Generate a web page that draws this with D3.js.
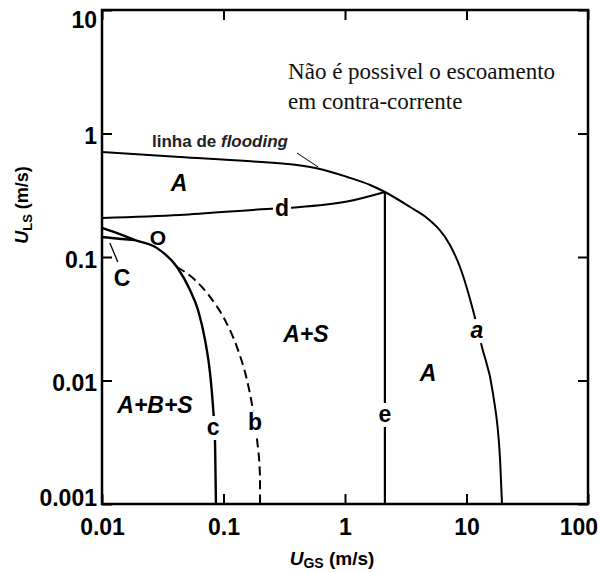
<!DOCTYPE html>
<html>
<head>
<meta charset="utf-8">
<script src="https://cdn.jsdelivr.net/npm/d3@7"></script>
<style>
  body { margin: 0; background: #fff; }
  svg { display: block; }
</style>
</head>
<body>
<svg id="chart" width="599" height="572"></svg>
<script>
// Axis ticks (log-log flow-pattern map, velocities in m/s)
const xTickValues = [0.01, 0.1, 1, 10, 100];
const xTickLabels = ["0.01", "0.1", "1", "10", "100"];
const yTickValues = [0.001, 0.01, 0.1, 1, 10];
const yTickLabels = ["0.001", "0.01", "0.1", "1", "10"];

// Flooding line, continuing as boundary a  [U_GS, U_LS]
const curveFloodA = [[0.01, 0.708], [0.0438, 0.645], [0.156, 0.598], [0.403, 0.556], [0.622, 0.516],
  [1.04, 0.445], [1.61, 0.383], [2.13, 0.336], [3.43, 0.254], [4.73, 0.207], [7.31, 0.125],
  [8.84, 0.083], [11.3, 0.0373], [13.4, 0.0187], [16.5, 0.0079], [18.9, 0.00227], [19.6, 0.001]];
// Boundary d
const curveD = [[0.01, 0.207], [0.0438, 0.219], [0.228, 0.245], [0.387, 0.252], [1.04, 0.281],
  [2.13, 0.336]];
// Boundary e (vertical)
const curveE = [[2.13, 0.336], [2.13, 0.001]];
// Boundary O / c (solid)
const curveC = [[0.01, 0.172], [0.014, 0.153], [0.0187, 0.137], [0.0284, 0.118], [0.0414, 0.083],
  [0.053, 0.054], [0.0617, 0.0372], [0.0705, 0.0213], [0.0775, 0.0115], [0.082, 0.0061],
  [0.0852, 0.00312], [0.0867, 0.001]];
// Boundary C (short branch merging into O)
const curveSmallC = [[0.01, 0.145], [0.0145, 0.140], [0.0187, 0.137]];
// Boundary b (dashed)
const curveB = [[0.0414, 0.083], [0.0583, 0.0652], [0.0775, 0.0475], [0.1028, 0.0309],
  [0.1315, 0.0177], [0.156, 0.0101], [0.172, 0.0063], [0.189, 0.0033], [0.1996, 0.0017], [0.2, 0.001]];
// Leader lines
const leaderC = [[0.0116, 0.130], [0.0135, 0.091]];
const leaderFlood = [[0.403, 0.695], [0.600, 0.536]];

// Curve letters and region names  [text, U_GS, U_LS]
const curveLabels = [["d", 0.303, 0.249], ["c", 0.082, 0.0042], ["b", 0.1815, 0.0046],
  ["e", 2.13, 0.00536], ["C", 0.0146, 0.0676]];
const curveLabelA = ["a", 12.2, 0.0256];
const circleLabel = ["O", 0.0289, 0.143];
const regionLabels = [["A", 0.043, 0.397], ["A+B+S", 0.0273, 0.0063], ["A+S", 0.477, 0.0238],
  ["A", 4.82, 0.0115]];
const floodingText = ["linha de ", "flooding", 0.0258, 0.778];
const noteLines = ["Não é possivel o escoamento", "em contra-corrente"];
const notePos = [0.34, 2.76, 1.58];

const svg = d3.select("#chart");
const L = 102, R = 588, T = 10, B = 504;
const x = d3.scaleLog().domain([0.01, 100]).range([L, R]);
const y = d3.scaleLog().domain([0.001, 10]).range([B, T]);
const sans = "'Liberation Sans', Arial, Helvetica, sans-serif";

const line = d3.line().x(d => x(d[0])).y(d => y(d[1])).curve(d3.curveMonotoneX);
const straight = d3.line().x(d => x(d[0])).y(d => y(d[1]));

// Axes with inward ticks on all four sides
function styleAxis(g) {
  g.select(".domain").remove();
  g.selectAll(".tick line").attr("stroke", "#000").attr("stroke-width", 2);
}
const gx = svg.append("g").attr("transform", `translate(0,${B})`)
  .call(d3.axisBottom(x).tickValues(xTickValues).tickSize(-10).tickPadding(15)
    .tickFormat((d, i) => xTickLabels[i]));
styleAxis(gx);
gx.selectAll("text").attr("font-family", sans).attr("font-size", 23).attr("font-weight", "bold")
  .attr("fill", "#000");
gx.selectAll(".tick text").each(function () {
  const w = this.getComputedTextLength();
  const tr = d3.select(this.parentNode).attr("transform");
  const cx = +tr.match(/translate\(([-\d.]+)/)[1];
  const maxRight = 598;
  if (cx + w / 2 > maxRight) d3.select(this).attr("x", maxRight - w / 2 - cx);
});

const gy = svg.append("g").attr("transform", `translate(${L},0)`)
  .call(d3.axisLeft(y).tickValues(yTickValues).tickSize(-10).tickPadding(5)
    .tickFormat((d, i) => yTickLabels[i]));
styleAxis(gy);
gy.selectAll("text").attr("font-family", sans).attr("font-size", 23).attr("font-weight", "bold")
  .attr("fill", "#000");
gy.selectAll(".tick text").each(function (d) {
  const ty = y(d);
  const target = Math.min(Math.max(ty + 3, 20), 498);
  d3.select(this).attr("y", target - ty);
});

const gt = svg.append("g").attr("transform", `translate(0,${T})`)
  .call(d3.axisTop(x).tickValues(xTickValues).tickSize(-10).tickFormat(""));
styleAxis(gt);
const gr = svg.append("g").attr("transform", `translate(${R},0)`)
  .call(d3.axisRight(y).tickValues(yTickValues).tickSize(-10).tickFormat(""));
styleAxis(gr);

// Frame
svg.append("rect").attr("x", L).attr("y", T).attr("width", R - L).attr("height", B - T)
  .attr("fill", "none").attr("stroke", "#000").attr("stroke-width", 2.5);

// Boundaries
const curves = svg.append("g").attr("fill", "none").attr("stroke", "#000")
  .attr("stroke-linecap", "butt");
curves.append("path").attr("d", line(curveFloodA)).attr("stroke-width", 2);
curves.append("path").attr("d", line(curveD)).attr("stroke-width", 2);
curves.append("path").attr("d", straight(curveE)).attr("stroke-width", 2.2);
curves.append("path").attr("d", line(curveC)).attr("stroke-width", 2.4);
curves.append("path").attr("d", line(curveSmallC)).attr("stroke-width", 2.4);
curves.append("path").attr("d", line(curveB)).attr("stroke-width", 2)
  .attr("stroke-dasharray", "9,5");
curves.append("path").attr("d", straight(leaderC)).attr("stroke-width", 1.3);
curves.append("path").attr("d", straight(leaderFlood)).attr("stroke-width", 1);

// Curve letters with a white knockout behind them
const labels = svg.append("g");
function letter(t, gx_, gy_, style) {
  const g = labels.append("g");
  const rect = g.append("rect").attr("fill", "#fff");
  const txt = g.append("text").attr("x", x(gx_)).attr("y", y(gy_))
    .attr("text-anchor", "middle").attr("dominant-baseline", "central")
    .attr("font-family", sans).attr("font-size", 23).attr("font-weight", "bold")
    .attr("font-style", style || "normal").attr("fill", "#000").text(t);
  const bb = txt.node().getBBox();
  rect.attr("x", bb.x - 2).attr("y", bb.y + 2).attr("width", bb.width + 4).attr("height", bb.height - 2);
  return txt;
}
curveLabels.forEach(([t, a, b]) => letter(t, a, b));
letter(curveLabelA[0], curveLabelA[1], curveLabelA[2], "italic");
labels.append("text").attr("x", x(circleLabel[1])).attr("y", y(circleLabel[2]))
  .attr("text-anchor", "middle").attr("dominant-baseline", "central")
  .attr("font-family", sans).attr("font-size", 21).attr("font-weight", "bold").text(circleLabel[0]);

regionLabels.forEach(([t, a, b]) => {
  labels.append("text").attr("x", x(a)).attr("y", y(b))
    .attr("text-anchor", "middle").attr("dominant-baseline", "central")
    .attr("font-family", sans).attr("font-size", 23).attr("font-weight", "bold")
    .attr("font-style", "italic").attr("fill", "#000").text(t);
});

const ft = labels.append("text").attr("x", x(floodingText[2])).attr("y", y(floodingText[3]))
  .attr("font-family", sans).attr("font-size", 17).attr("font-weight", "bold").attr("fill", "#222");
ft.append("tspan").text(floodingText[0]);
ft.append("tspan").attr("font-style", "italic").text(floodingText[1]);

// Note in the upper region
noteLines.forEach((s, i) => {
  labels.append("text").attr("x", x(notePos[0])).attr("y", y(notePos[1 + i]))
    .attr("font-family", "'Liberation Serif', 'Times New Roman', serif").attr("font-size", 23)
    .attr("fill", "#111").text(s);
});

// Axis titles
const xt = svg.append("text").attr("x", 332).attr("y", 558).attr("text-anchor", "middle")
  .attr("dominant-baseline", "central").attr("font-family", sans).attr("font-size", 19)
  .attr("font-weight", "bold");
xt.append("tspan").attr("font-style", "italic").text("U");
xt.append("tspan").attr("font-size", 14).attr("dy", 5).text("GS");
xt.append("tspan").attr("dy", -5).text(" (m/s)");

const yt = svg.append("text").attr("transform", "translate(22,205) rotate(-90)")
  .attr("text-anchor", "middle").attr("dominant-baseline", "central")
  .attr("font-family", sans).attr("font-size", 18).attr("font-weight", "bold");
yt.append("tspan").attr("font-style", "italic").text("U");
yt.append("tspan").attr("font-size", 13).attr("dy", 5).text("LS");
yt.append("tspan").attr("dy", -5).text(" (m/s)");
</script>
</body>
</html>
